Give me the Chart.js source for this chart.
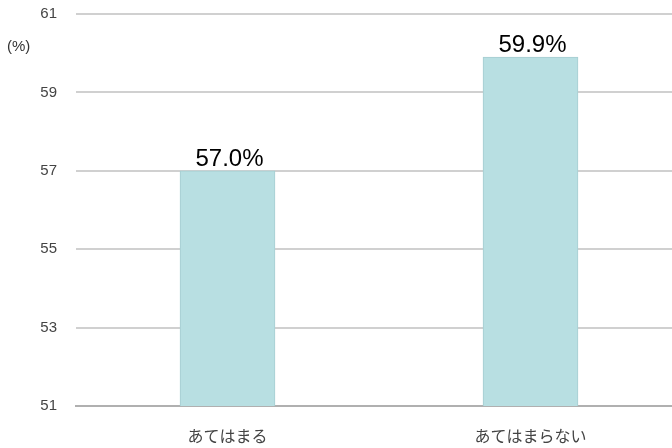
<!DOCTYPE html>
<html lang="ja">
<head>
    <meta charset="UTF-8">
    <title>あてはまる / あてはまらない</title>
    <style>
        html, body {
            margin: 0;
            padding: 0;
            background: #ffffff;
            overflow: hidden;
        }
        .wrap {
            position: relative;
            width: 682px;
            height: 448px;
        }
        .unit {
            position: absolute;
            left: 7px;
            top: 37px;
            font-family: "Liberation Sans", Arial, sans-serif;
            font-size: 15px;
            color: #333333;
        }
    </style>
</head>
<body>
    <div class="wrap">
        <canvas id="chart" width="682" height="448"></canvas>
        <div class="unit">(%)</div>
    </div>

    <script src="https://cdn.jsdelivr.net/npm/chart.js"></script>
    <script>
        const categories = ['あてはまる', 'あてはまらない'];
        const values = [57.0, 59.9];
        const yMin = 51;
        const yMax = 61;
        const yStep = 2;

        // labels above each bar
        const valueLabels = {
            id: 'valueLabels',
            afterDatasetsDraw(chart) {
                const ctx = chart.ctx;
                const meta = chart.getDatasetMeta(0);
                ctx.save();
                ctx.font = '24px "Liberation Sans", Arial, sans-serif';
                ctx.fillStyle = '#000000';
                ctx.textAlign = 'center';
                ctx.textBaseline = 'alphabetic';
                meta.data.forEach((bar, i) => {
                    ctx.fillText(values[i].toFixed(1) + '%', bar.x + 2, bar.y - 5);
                });
                ctx.restore();
            }
        };

        new Chart(document.getElementById('chart'), {
            type: 'bar',
            data: {
                labels: categories,
                datasets: [{
                    data: values,
                    backgroundColor: '#b8dfe2',
                    borderColor: '#a6cdd1',
                    borderWidth: 1,
                    barThickness: 95
                }]
            },
            options: {
                responsive: false,
                animation: false,
                layout: { padding: { top: 14, left: 0, right: 0, bottom: 0 } },
                plugins: {
                    legend: { display: false },
                    tooltip: { enabled: false }
                },
                scales: {
                    x: {
                        grid: { display: false, drawTicks: false },
                        border: { color: '#b0b0b0', width: 2 },
                        ticks: {
                            padding: 20,
                            color: '#444444',
                            font: { family: '"Noto Sans CJK JP", sans-serif', size: 16 }
                        },
                        afterFit(s) { s.height = 42; }
                    },
                    y: {
                        min: yMin,
                        max: yMax,
                        grid: { color: '#d0d0d0', lineWidth: 2, drawTicks: false },
                        border: { display: false },
                        ticks: {
                            stepSize: yStep,
                            padding: 19,
                            color: '#444444',
                            font: { family: '"Liberation Sans", Arial, sans-serif', size: 15 }
                        },
                        afterFit(s) {
                            s.width = 76;
                            s.paddingTop = 0;
                            s.paddingBottom = 0;
                        }
                    }
                }
            },
            plugins: [valueLabels]
        });
    </script>
</body>
</html>
